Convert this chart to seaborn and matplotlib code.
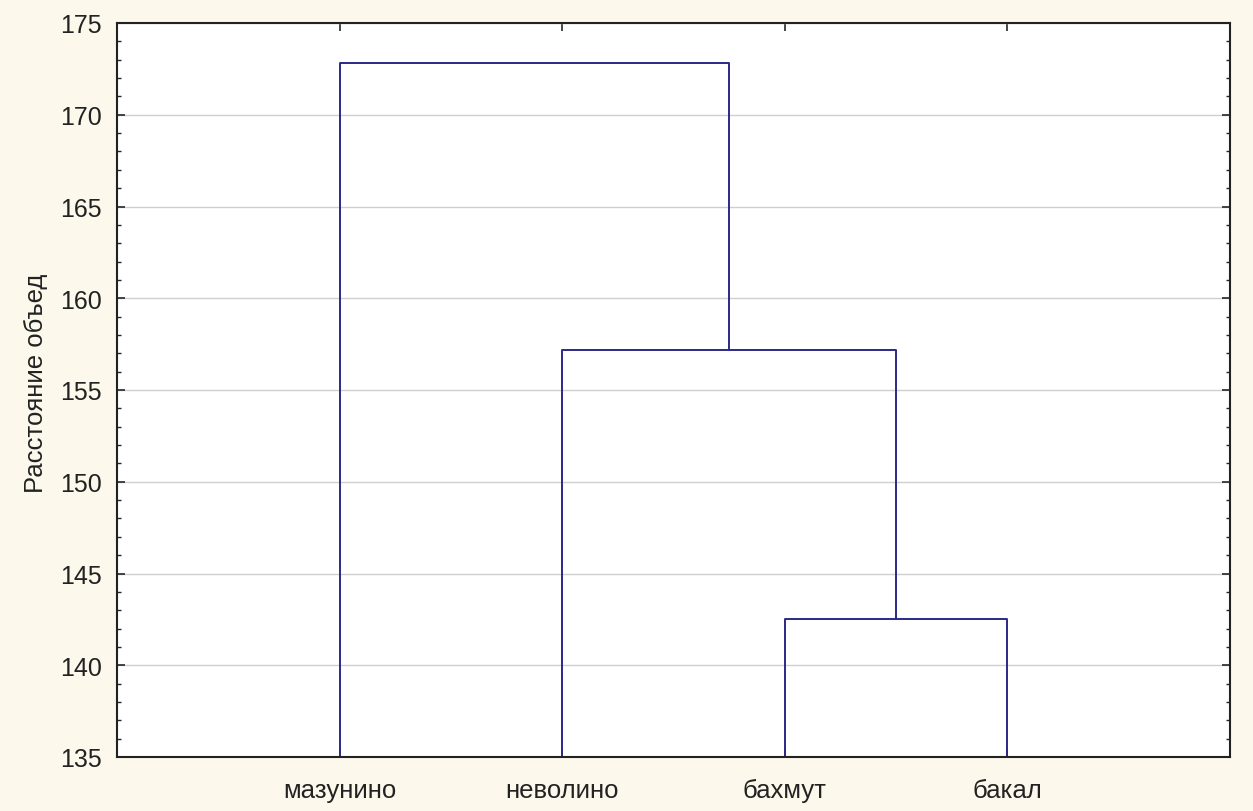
import pandas as pd
import numpy as np
import matplotlib
matplotlib.use("Agg")
import matplotlib.pyplot as plt
from matplotlib.ticker import MultipleLocator
import seaborn as sns

# листья дендрограммы (порядок слева направо)
leaves = ["мазунино", "неволино", "бахмут", "бакал"]
# объединения: (левый, правый, расстояние)
merge_left = ["бахмут", "неволино", "мазунино"]
merge_right = ["бакал", "C1", "C2"]
merge_height = [142.5, 157.2, 172.8]
cluster_names = ["C1", "C2", "C3"]

y_bottom = 135
y_top = 175

sns.set_theme(style="white")
plt.rcParams['font.family'] = ['Liberation Sans', 'DejaVu Sans']

# позиции и высоты узлов
pos = {name: i + 1 for i, name in enumerate(leaves)}
height = {name: y_bottom for name in leaves}
rows = []
for k, (l, r, h) in enumerate(zip(merge_left, merge_right, merge_height)):
    xs = [pos[l], pos[l], pos[r], pos[r]]
    ys = [height[l], h, h, height[r]]
    for j, (x, y) in enumerate(zip(xs, ys)):
        rows.append({"link": k, "order": j, "x": x, "y": y})
    pos[cluster_names[k]] = (pos[l] + pos[r]) / 2
    height[cluster_names[k]] = h
df = pd.DataFrame(rows)

fig = plt.figure(figsize=(12.53, 8.12), dpi=100, facecolor="#FCF8EC")
ax = fig.add_axes([117 / 1253, 1 - 758 / 812, (1230 - 117) / 1253, (758 - 24) / 812])
ax.set_facecolor("white")

ax.yaxis.grid(True, color="#CFCFCF", linewidth=1.0)
ax.set_axisbelow(True)

sns.lineplot(data=df, x="x", y="y", units="link", estimator=None, sort=False,
             color="#2A2A86", linewidth=1.4, ax=ax, legend=False)

ax.set_xlim(0, len(leaves) + 1)
ax.set_ylim(y_bottom, y_top)
ax.set_xticks(range(1, len(leaves) + 1))
ax.set_xticklabels(leaves, fontsize=18.5, color="#222222")
ax.yaxis.set_major_locator(MultipleLocator(5))
ax.yaxis.set_minor_locator(MultipleLocator(1))
ax.tick_params(axis="y", which="major", direction="in", length=6, width=1.2,
               left=True, right=True, labelsize=18, labelcolor="#222222", pad=11)
ax.tick_params(axis="y", which="minor", direction="in", length=3, width=1.0,
               left=True, right=True)
ax.tick_params(axis="x", which="major", direction="in", length=6, width=1.2,
               top=True, bottom=True, pad=15)
ax.set_xlabel("")
ax.set_ylabel("Расстояние объед", fontsize=18.5, color="#222222")
ax.yaxis.set_label_coords(-0.062, 0.51)

for s in ax.spines.values():
    s.set_color("#222222")
    s.set_linewidth(1.5)

fig.savefig("out.png", dpi=100, facecolor=fig.get_facecolor())
